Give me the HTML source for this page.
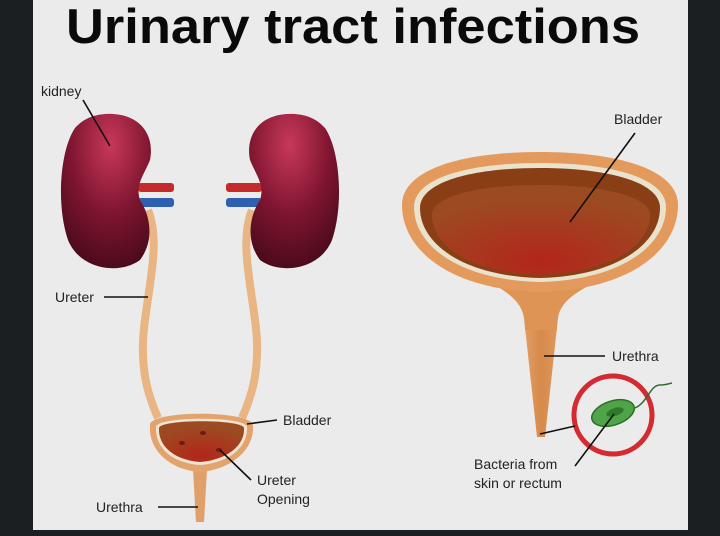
<!DOCTYPE html>
<html><head><meta charset="utf-8"><style>
html,body{margin:0;padding:0;background:#1c1f22;}
svg{display:block}
text{font-family:"Liberation Sans",sans-serif;fill:#222}
</style></head><body>
<svg width="720" height="536" viewBox="0 0 720 536" xmlns="http://www.w3.org/2000/svg">
<defs>
<radialGradient id="kl" cx="0.55" cy="0.2" r="0.9">
<stop offset="0" stop-color="#c8385a"/><stop offset="0.5" stop-color="#7e1530"/><stop offset="1" stop-color="#3e0815"/></radialGradient>
<radialGradient id="kr" cx="0.45" cy="0.2" r="0.9">
<stop offset="0" stop-color="#c8385a"/><stop offset="0.5" stop-color="#7e1530"/><stop offset="1" stop-color="#3e0815"/></radialGradient>
<radialGradient id="cav" cx="0.5" cy="0.85" r="0.7">
<stop offset="0" stop-color="#b3261a"/><stop offset="1" stop-color="#9c4a22"/></radialGradient>
<linearGradient id="tube" x1="0" x2="1"><stop offset="0" stop-color="#e6a065"/><stop offset="0.5" stop-color="#d68a4c"/><stop offset="1" stop-color="#e09a5c"/></linearGradient>
</defs>
<rect x="33" y="0" width="655" height="530" fill="#ebebeb"/>
<text x="66" y="43" font-size="49" font-weight="bold" textLength="574" lengthAdjust="spacingAndGlyphs" style="fill:#0a0a0a">Urinary tract infections</text>

<!-- ureters -->
<path d="M148 210 C160 240 150 280 145 320 C138 370 150 400 158 418" stroke="#e8b583" stroke-width="8" fill="none"/>
<path d="M252 210 C240 240 250 280 255 320 C262 370 250 400 242 418" stroke="#e8b583" stroke-width="8" fill="none"/>
<!-- vessels -->
<rect x="138" y="183" width="36" height="9" rx="3" fill="#c62a2a"/>
<rect x="138" y="198" width="36" height="9" rx="3" fill="#2f5fb0"/>
<rect x="226" y="183" width="36" height="9" rx="3" fill="#c62a2a"/>
<rect x="226" y="198" width="36" height="9" rx="3" fill="#2f5fb0"/>
<!-- kidneys -->
<path d="M105 114 C140 112 155 135 150 160 C144 175 135 185 140 200 C150 215 155 240 140 260 C120 275 80 270 68 240 C56 205 60 150 75 128 C84 118 94 115 105 114Z" fill="url(#kl)"/>
<path d="M295 114 C260 112 245 135 250 160 C256 175 265 185 260 200 C250 215 245 240 260 260 C280 275 320 270 332 240 C344 205 340 150 325 128 C316 118 306 115 295 114Z" fill="url(#kr)"/>

<!-- small bladder -->
<path d="M193 470 L196 522 L204 522 L207 470Z" fill="#dfa06a"/>
<path d="M150 425 C150 410 250 410 253 425 C255 450 230 470 200 472 C170 470 148 450 150 425Z" fill="#e3a36c"/>
<path d="M156 427 C156 416 247 416 247 427 C248 448 228 463 200 465 C172 463 155 448 156 427Z" fill="#eee4d0"/>
<path d="M159 428 C160 419 243 419 244 428 C245 446 226 460 200 462 C174 460 158 446 159 428Z" fill="url(#cav)"/>
<ellipse cx="182" cy="443" rx="3" ry="2" fill="#6a1c10"/><ellipse cx="203" cy="433" rx="3" ry="2" fill="#6a1c10"/><ellipse cx="219" cy="450" rx="3" ry="2" fill="#6a1c10"/>

<!-- big bladder -->
<path d="M522 300 L537 437 L545 437 L560 300Z" fill="url(#tube)"/>
<path d="M495 285 C520 300 525 310 525 330 L557 330 C557 310 562 300 590 285Z" fill="#dd9455"/>
<path d="M540 152 C620 152 678 170 678 205 C678 250 630 290 540 292 C450 290 402 250 402 205 C402 170 460 152 540 152Z" fill="#e49a5c"/>
<path d="M540 163 C612 163 666 178 666 207 C666 245 622 280 540 282 C458 280 414 245 414 207 C414 178 468 163 540 163Z" fill="#e9e2cc"/>
<path d="M540 168 C608 168 660 182 660 208 C660 243 618 276 540 278 C462 276 420 243 420 208 C420 182 472 168 540 168Z" fill="#8a3e16"/>
<path d="M540 185 C605 185 650 197 650 215 C650 245 612 272 540 275 C468 272 432 245 432 215 C432 197 475 185 540 185Z" fill="url(#cav)"/>

<!-- bacteria -->
<circle cx="613" cy="415" r="39" fill="none" stroke="#d42a30" stroke-width="5"/>
<path d="M635 408 C648 402 650 385 660 385 C665 385 668 384 672 383" stroke="#2e6a2a" stroke-width="1.5" fill="none"/>
<ellipse cx="613" cy="413" rx="22" ry="12" transform="rotate(-18 613 413)" fill="#4fa447" stroke="#2b6e27" stroke-width="1.5"/>
<ellipse cx="615" cy="412" rx="9" ry="4" transform="rotate(-18 615 412)" fill="#2f7a2a"/>

<!-- leaders -->
<g stroke="#111" stroke-width="1.6" fill="none">
<line x1="83" y1="100" x2="110" y2="146"/>
<line x1="104" y1="297" x2="148" y2="297"/>
<line x1="247" y1="424" x2="277" y2="420"/>
<line x1="220" y1="450" x2="251" y2="480"/>
<line x1="158" y1="507" x2="198" y2="507"/>
<line x1="635" y1="133" x2="570" y2="222"/>
<line x1="544" y1="356" x2="605" y2="356"/>
<line x1="540" y1="434" x2="575" y2="426"/>
<line x1="614" y1="414" x2="575" y2="466"/>
</g>
<g font-size="14">
<text x="41" y="96">kidney</text>
<text x="55" y="302">Ureter</text>
<text x="283" y="425">Bladder</text>
<text x="257" y="485">Ureter</text>
<text x="257" y="504">Opening</text>
<text x="96" y="512">Urethra</text>
<text x="614" y="124">Bladder</text>
<text x="612" y="361">Urethra</text>
<text x="474" y="469">Bacteria from</text>
<text x="474" y="488">skin or rectum</text>
</g>
</svg>
</body></html>
